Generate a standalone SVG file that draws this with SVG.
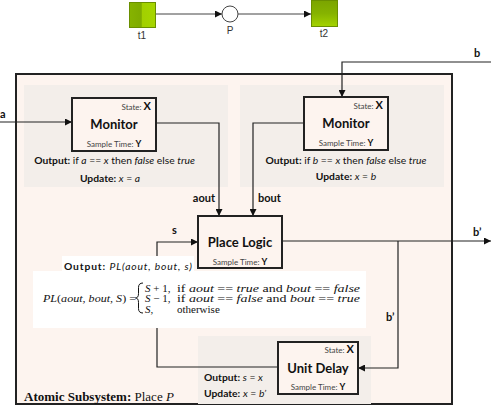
<svg xmlns="http://www.w3.org/2000/svg" width="491" height="405" viewBox="0 0 491 405">
<defs>
<linearGradient id="g1" x1="0" y1="0" x2="1" y2="0"><stop offset="0" stop-color="#86b300"/><stop offset="0.45" stop-color="#7fab00"/><stop offset="0.5" stop-color="#a2d000"/><stop offset="1" stop-color="#a6d600"/></linearGradient>
<linearGradient id="g2" x1="0" y1="0" x2="0" y2="1"><stop offset="0" stop-color="#7ba400"/><stop offset="0.5" stop-color="#86b300"/><stop offset="1" stop-color="#a4d400"/></linearGradient>
<marker id="ar" viewBox="0 0 10 10" refX="10" refY="5" markerWidth="7" markerHeight="7" markerUnits="userSpaceOnUse" orient="auto"><path d="M0,0 L10,5 L0,10 z" fill="#111"/></marker>
</defs>
<style>
.sans{font-family:Lato,"Open Sans","Liberation Sans",sans-serif;fill:#111}
.box{fill:#fdf4ef;stroke:#222;stroke-width:2}
.panel{fill:#f3eeea}
.title{font-size:13px;font-weight:bold}
.st{font-size:8px;fill:#444}
.stb{font-size:11px;font-weight:bold;fill:#111}
.sty{font-size:9px;font-weight:bold;fill:#111}
.lbl{font-size:11px;font-weight:bold}
.txt{font-size:10.3px}
.b{font-weight:bold}
.i{font-style:italic}
.con{fill:none;stroke:#222;stroke-width:1.2}
.pn{font-family:"Liberation Sans",Arial,sans-serif;font-size:10px;fill:#333}
.m{font-family:"Liberation Serif","Times New Roman",serif;font-size:11px;fill:#111}
.serif{font-family:"Liberation Serif","Times New Roman",serif;font-size:13px;fill:#111}
</style>
<rect width="491" height="405" fill="#fff"/>
<g id="petri">
<line x1="156" y1="14" x2="222" y2="14" stroke="#444" stroke-width="1" marker-end="url(#ar)"/>
<line x1="238" y1="14" x2="311" y2="14" stroke="#444" stroke-width="1" marker-end="url(#ar)"/>
<g id="t1"><rect x="129.5" y="2.5" width="26" height="25" fill="url(#g1)" stroke="#6a8f00" stroke-width="1"/><text class="pn" x="142" y="39" text-anchor="middle">t1</text></g>
<g id="P"><circle cx="230" cy="14" r="8" fill="#fff" stroke="#444" stroke-width="1"/><text class="pn" x="230" y="34" text-anchor="middle">P</text></g>
<g id="t2"><rect x="311.5" y="0.5" width="26" height="26" fill="url(#g2)" stroke="#6a8f00" stroke-width="1"/><text class="pn" x="324" y="37" text-anchor="middle">t2</text></g>
</g>
<g id="subsystem">
<rect x="16" y="74" width="436" height="330" fill="#fdf4ef" stroke="#222" stroke-width="2"/>
<rect class="panel" x="24" y="85" width="204" height="102"/>
<rect class="panel" x="240" y="85" width="204" height="102"/>
<rect class="panel" x="198" y="336" width="173" height="68"/>
<text class="serif" x="24" y="401"><tspan font-weight="bold">Atomic Subsystem:</tspan> Place <tspan font-style="italic">P</tspan></text>
</g>
<g id="connectors">
<path class="con" d="M0 122 H72" marker-end="url(#ar)"/>
<path class="con" d="M491 62 H342 V97" marker-end="url(#ar)"/>
<path class="con" d="M156 123 H219 V216" marker-end="url(#ar)"/>
<path class="con" d="M304 123 H253 V216" marker-end="url(#ar)"/>
<path class="con" d="M282 241 H491" marker-end="url(#ar)"/>
<path class="con" d="M398 241 V368 H358" marker-end="url(#ar)"/>
<path class="con" d="M278 367 H157 V242 H198" marker-end="url(#ar)"/>
<text class="sans lbl" x="0" y="118">a</text>
<text class="sans lbl" x="474" y="57">b</text>
<text class="sans lbl" x="215" y="202" text-anchor="end">aout</text>
<text class="sans lbl" x="258" y="202">bout</text>
<text class="sans lbl" x="172" y="234">s</text>
<text class="sans lbl" x="473" y="236">b’</text>
<text class="sans lbl" x="386" y="321">b’</text>
</g>
<g id="monitorA" class="sans">
<rect class="box" x="72" y="98" width="84" height="53"/>
<text x="151" y="110" text-anchor="end"><tspan class="st">State: </tspan><tspan class="stb">X</tspan></text>
<text class="title" x="114" y="129" text-anchor="middle">Monitor</text>
<text x="114" y="147" text-anchor="middle"><tspan class="st">Sample Time: </tspan><tspan class="sty">Y</tspan></text>
<text class="txt" x="114.5" y="164" text-anchor="middle"><tspan class="b">Output:</tspan> if <tspan class="i">a</tspan> == <tspan class="i">x</tspan> then <tspan class="i">false</tspan> else <tspan class="i">true</tspan></text>
<text class="txt" x="110" y="182" text-anchor="middle"><tspan class="b">Update:</tspan> <tspan class="i">x</tspan> = <tspan class="i">a</tspan></text>
</g>
<g id="monitorB" class="sans">
<rect class="box" x="304" y="97" width="84" height="53"/>
<text x="383" y="109" text-anchor="end"><tspan class="st">State: </tspan><tspan class="stb">X</tspan></text>
<text class="title" x="346" y="128" text-anchor="middle">Monitor</text>
<text x="346" y="146" text-anchor="middle"><tspan class="st">Sample Time: </tspan><tspan class="sty">Y</tspan></text>
<text class="txt" x="346" y="164" text-anchor="middle"><tspan class="b">Output:</tspan> if <tspan class="i">b</tspan> == <tspan class="i">x</tspan> then <tspan class="i">false</tspan> else <tspan class="i">true</tspan></text>
<text class="txt" x="346" y="180" text-anchor="middle"><tspan class="b">Update:</tspan> <tspan class="i">x</tspan> = <tspan class="i">b</tspan></text>
</g>
<g id="placeLogic" class="sans">
<rect class="box" x="198" y="216" width="84" height="52"/>
<text class="title" x="240" y="247" text-anchor="middle" font-size="12.5">Place Logic</text>
<text x="240" y="265" text-anchor="middle"><tspan class="st">Sample Time: </tspan><tspan class="sty">Y</tspan></text>
<path d="M62 256 H194 V271 H366 V328 H33 V271 H62 Z" fill="#fff"/>
<text class="txt" x="64" y="270" font-size="10.8" textLength="128" lengthAdjust="spacing"><tspan class="b">Output:</tspan> <tspan class="i">PL(aout,  bout, s)</tspan></text>
<g id="formula">
<text class="m" x="43" y="302" textLength="93" lengthAdjust="spacingAndGlyphs"><tspan font-style="italic">PL</tspan>(<tspan font-style="italic">aout</tspan>, <tspan font-style="italic">bout</tspan>, <tspan font-style="italic">S</tspan>) =</text>
<path d="M143 283 Q138.5 283 138.5 287.5 V293.5 Q138.5 298 135.5 298 Q138.5 298 138.5 302.5 V308.5 Q138.5 313 143 313" fill="none" stroke="#111" stroke-width="1"/>
<text class="m" x="145" y="291.5"><tspan font-style="italic">S</tspan> + 1,</text>
<text class="m" x="145" y="302"><tspan font-style="italic">S</tspan> − 1,</text>
<text class="m" x="145" y="312.5"><tspan font-style="italic">S</tspan>,</text>
<text class="m" x="177" y="291.5" textLength="183" lengthAdjust="spacingAndGlyphs">if <tspan font-style="italic">aout</tspan> == <tspan font-style="italic">true</tspan> and <tspan font-style="italic">bout</tspan> == <tspan font-style="italic">false</tspan></text>
<text class="m" x="177" y="302" textLength="183" lengthAdjust="spacingAndGlyphs">if <tspan font-style="italic">aout</tspan> == <tspan font-style="italic">false</tspan> and <tspan font-style="italic">bout</tspan> == <tspan font-style="italic">true</tspan></text>
<text class="m" x="177" y="312.5">otherwise</text>
</g>
</g>
<g id="unitDelay" class="sans">
<rect class="box" x="278" y="342" width="80" height="52"/>
<text x="354" y="353" text-anchor="end"><tspan class="st">State: </tspan><tspan class="stb">X</tspan></text>
<text class="title" x="318" y="373" text-anchor="middle" font-size="12.5">Unit Delay</text>
<text x="318" y="390" text-anchor="middle"><tspan class="st">Sample Time: </tspan><tspan class="sty">Y</tspan></text>
<text class="txt" x="204" y="381"><tspan class="b">Output:</tspan> <tspan class="i">s</tspan> = <tspan class="i">x</tspan></text>
<text class="txt" x="204" y="397"><tspan class="b">Update:</tspan> <tspan class="i">x</tspan> = <tspan class="i">b’</tspan></text>
</g>
</svg>
